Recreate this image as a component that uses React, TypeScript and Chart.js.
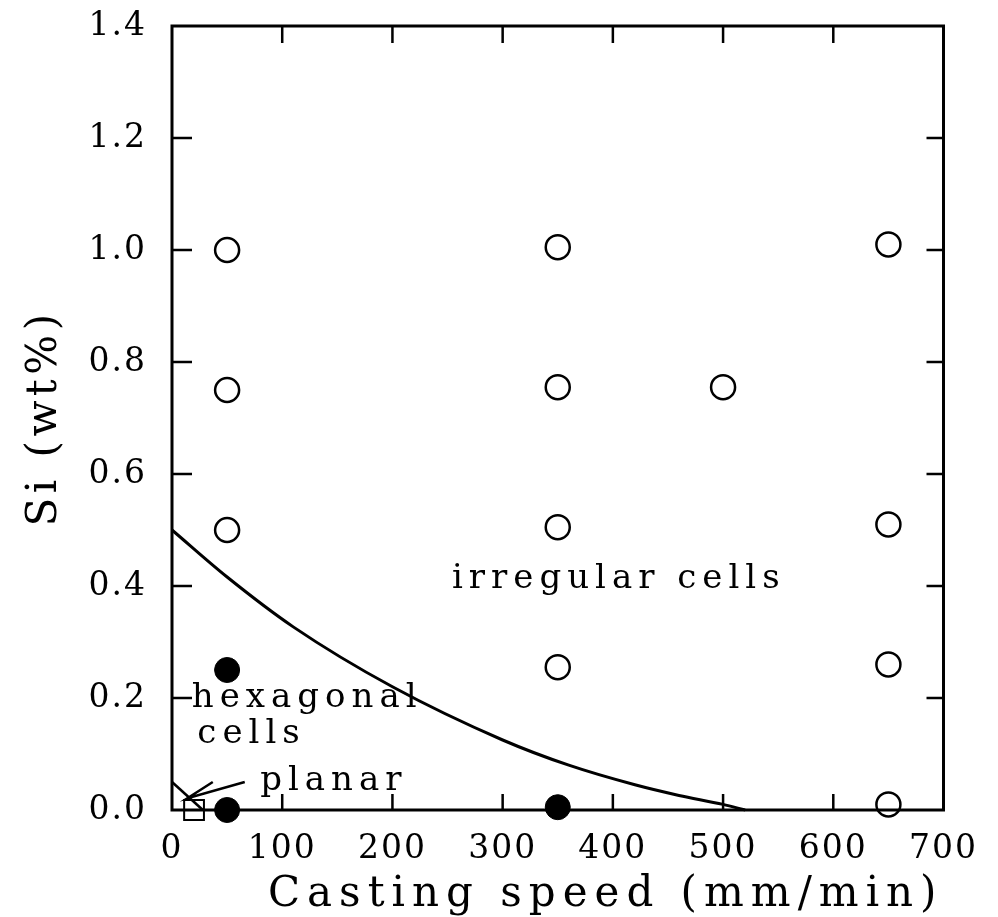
import React, { useEffect, useRef } from "react";
import { Chart, registerables } from "chart.js";

Chart.register(...registerables);

// Axis ticks
const xTickValues = [0, 100, 200, 300, 400, 500, 600, 700];
const yTickValues = [0, 0.2, 0.4, 0.6, 0.8, 1.0, 1.2, 1.4];

// Open circles: irregular cells
const openX = [50, 50, 50, 350, 350, 350, 350, 500, 650, 650, 650, 650];
const openY = [1.0, 0.75, 0.5, 1.005, 0.755, 0.505, 0.255, 0.755, 1.01, 0.51, 0.26, 0.01];

// Filled circles: hexagonal cells
const filledX = [50, 50, 350];
const filledY = [0.25, 0.0, 0.005];

// Open square: planar
const squareX = [20];
const squareY = [0.0];

// Boundary curve hexagonal / irregular
const curveX = [0, 50, 110, 200, 300, 360, 420, 460, 500, 520];
const curveY = [0.5, 0.416, 0.327, 0.22, 0.125, 0.08, 0.045, 0.026, 0.01, 0.0];

// Planar / hexagonal boundary
const planarX = [0, 28];
const planarY = [0.05, 0.0];

// Arrow from "planar" label to the square
const arrowX = [66, 14, 37];
const arrowY = [0.05, 0.021, 0.05];

// Annotations
const labelTexts = ["irregular cells", "hexagonal", "cells", "planar"];
const labelX = [254, 18, 23, 80];
const labelY = [0.396, 0.184, 0.12, 0.036];

const xTitle = "Casting speed (mm/min)";
const yTitle = "Si (wt%)";

const FONT = "'DejaVu Serif', serif";

const zip = (xs: number[], ys: number[]) => xs.map((x, i) => ({ x, y: ys[i] }));

const setSpacing = (ctx: any, s: string) => {
  try {
    ctx.letterSpacing = s;
  } catch (e) {}
};

const TICK_SPACING = "2px";

const framePlugin = {
  id: "frameTicks",
  beforeLayout(chart: any) {
    setSpacing(chart.ctx, TICK_SPACING);
  },
  beforeDraw(chart: any) {
    setSpacing(chart.ctx, TICK_SPACING);
  },
  beforeDatasetsDraw(chart: any) {
    const { ctx, chartArea } = chart;
    const xs = chart.scales.x;
    const ys = chart.scales.y;
    ctx.save();
    ctx.strokeStyle = "#000";
    ctx.lineWidth = 3;
    ctx.strokeRect(chartArea.left, chartArea.top, chartArea.right - chartArea.left, chartArea.bottom - chartArea.top);
    ctx.lineWidth = 2.5;
    ctx.beginPath();
    xTickValues.forEach((v) => {
      if (v === xs.min || v === xs.max) return;
      const px = xs.getPixelForValue(v);
      ctx.moveTo(px, chartArea.bottom);
      ctx.lineTo(px, chartArea.bottom - 16);
      ctx.moveTo(px, chartArea.top);
      ctx.lineTo(px, chartArea.top + 17);
    });
    yTickValues.forEach((v) => {
      if (v === ys.min || v === ys.max) return;
      const py = ys.getPixelForValue(v);
      ctx.moveTo(chartArea.left, py);
      ctx.lineTo(chartArea.left + 20, py);
      ctx.moveTo(chartArea.right, py);
      ctx.lineTo(chartArea.right - 17, py);
    });
    ctx.stroke();
    ctx.restore();
  },
  afterDatasetsDraw(chart: any) {
    const { ctx, chartArea } = chart;
    const xs = chart.scales.x;
    const ys = chart.scales.y;
    ctx.save();
    ctx.fillStyle = "#000";
    ctx.font = `34px ${FONT}`;
    setSpacing(ctx, "6px");
    ctx.textAlign = "left";
    ctx.textBaseline = "alphabetic";
    labelTexts.forEach((t, i) => {
      ctx.fillText(t, xs.getPixelForValue(labelX[i]), ys.getPixelForValue(labelY[i]));
    });
    // axis titles
    ctx.font = `42px ${FONT}`;
    setSpacing(ctx, "7px");
    ctx.textAlign = "right";
    ctx.fillText(xTitle, chartArea.right, chartArea.bottom + 96);
    ctx.translate(chartArea.left - 127, (chartArea.top + chartArea.bottom) / 2);
    ctx.rotate(-Math.PI / 2);
    ctx.textAlign = "center";
    ctx.textBaseline = "middle";
    setSpacing(ctx, "4.5px");
    ctx.fillText(yTitle, 0, 0);
    ctx.restore();
    setSpacing(ctx, TICK_SPACING);
  },
};

export default function App() {
  const ref = useRef<HTMLCanvasElement | null>(null);

  useEffect(() => {
    document.body.style.margin = "0";
    const canvas = ref.current;
    if (!canvas) return;
    const chart = new Chart(canvas, {
      type: "scatter",
      data: {
        datasets: [
          {
            label: "boundary",
            data: zip(curveX, curveY),
            showLine: true,
            borderColor: "#000",
            borderWidth: 3,
            pointRadius: 0,
            cubicInterpolationMode: "monotone",
            clip: false,
          } as any,
          {
            label: "planar boundary",
            data: zip(planarX, planarY),
            showLine: true,
            borderColor: "#000",
            borderWidth: 2.5,
            pointRadius: 0,
            clip: false,
          } as any,
          {
            label: "arrow",
            data: zip(arrowX, arrowY),
            showLine: true,
            borderColor: "#000",
            borderWidth: 2.5,
            pointRadius: 0,
            tension: 0,
            clip: false,
          } as any,
          {
            label: "irregular",
            data: zip(openX, openY),
            pointStyle: "circle",
            pointRadius: 12,
            pointBorderWidth: 2.5,
            pointBorderColor: "#000",
            pointBackgroundColor: "rgba(0,0,0,0)",
            clip: false,
          } as any,
          {
            label: "hexagonal",
            data: zip(filledX, filledY),
            pointStyle: "circle",
            pointRadius: 12.5,
            pointBorderWidth: 1,
            pointBorderColor: "#000",
            pointBackgroundColor: "#000",
            clip: false,
          } as any,
          {
            label: "planar",
            data: zip(squareX, squareY),
            pointStyle: "rect",
            pointRadius: 14,
            pointBorderWidth: 2,
            pointBorderColor: "#000",
            pointBackgroundColor: "rgba(0,0,0,0)",
            clip: false,
          } as any,
        ],
      },
      options: {
        responsive: false,
        animation: false,
        events: [],
        layout: { padding: { top: 26, right: 52, left: 0, bottom: 0 } },
        plugins: {
          legend: { display: false },
          tooltip: { enabled: false },
        },
        scales: {
          x: {
            type: "linear",
            min: 0,
            max: 700,
            afterFit: (s: any) => {
              s.height = 107;
            },
            afterBuildTicks: (s: any) => {
              s.ticks = xTickValues.map((v) => ({ value: v }));
            },
            grid: { display: false, drawTicks: false },
            border: { display: false },
            ticks: {
              color: "#000",
              padding: 20,
              maxRotation: 0,
              autoSkip: false,
              font: { family: FONT, size: 33 },
              callback: (v: any) => String(v),
            },
          },
          y: {
            type: "linear",
            min: 0,
            max: 1.4,
            afterFit: (s: any) => {
              s.width = 172;
              s.paddingTop = 0;
              s.paddingBottom = 0;
            },
            afterBuildTicks: (s: any) => {
              s.ticks = yTickValues.map((v) => ({ value: v }));
            },
            grid: { display: false, drawTicks: false },
            border: { display: false },
            ticks: {
              color: "#000",
              padding: 25,
              autoSkip: false,
              font: { family: FONT, size: 33 },
              callback: (v: any) => Number(v).toFixed(1),
            },
          },
        },
      } as any,
      plugins: [framePlugin],
    });
    return () => chart.destroy();
  }, []);

  return (
    <div style={{ width: 998, height: 917 }}>
      <canvas ref={ref} width={998} height={917} style={{ display: "block" }} />
    </div>
  );
}
